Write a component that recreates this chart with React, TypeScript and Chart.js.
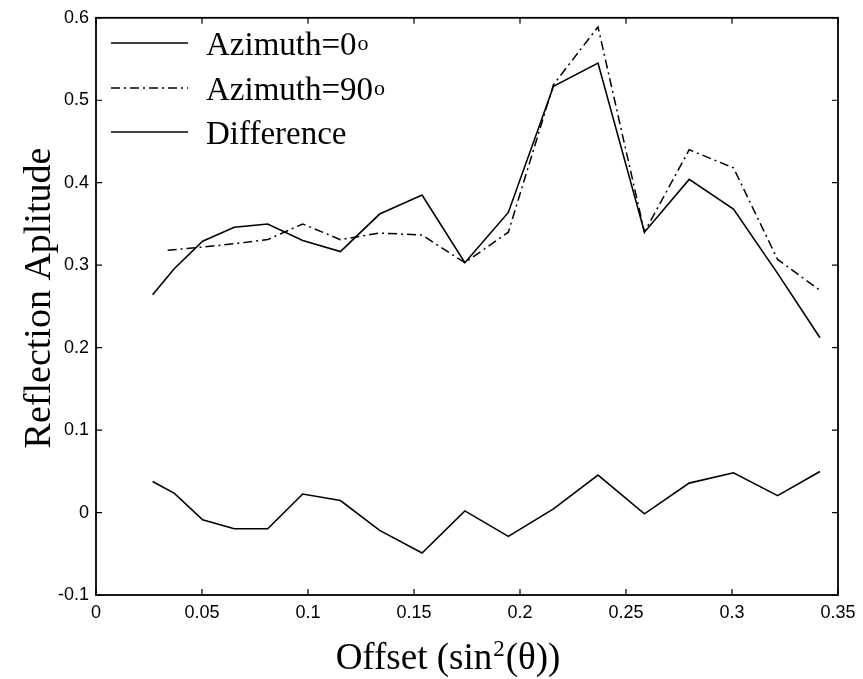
import React, { useEffect, useRef } from "react";
import { Chart, registerables } from "chart.js";

Chart.register(...registerables);

// ---- data ----
const offsets = [0.0267, 0.037, 0.0503, 0.0652, 0.081, 0.0975, 0.1153, 0.1338, 0.1538, 0.174, 0.1945, 0.2158, 0.2368, 0.2587, 0.2798, 0.3007, 0.3215, 0.3415];
const azimuth0 = [0.264, 0.296, 0.329, 0.346, 0.35, 0.33, 0.3165, 0.362, 0.385, 0.303, 0.364, 0.517, 0.545, 0.34, 0.404, 0.368, 0.29, 0.212];
const azimuth90Offsets = [0.0338, 0.0503, 0.0652, 0.081, 0.0975, 0.1153, 0.1338, 0.1538, 0.174, 0.1945, 0.2158, 0.2368, 0.2587, 0.2798, 0.3007, 0.3215, 0.3415];
const azimuth90 = [0.318, 0.322, 0.326, 0.331, 0.35, 0.331, 0.339, 0.3365, 0.303, 0.34, 0.519, 0.589, 0.34, 0.44, 0.418, 0.307, 0.2695];
const difference = [0.0377, 0.0233, -0.0088, -0.0197, -0.0197, 0.0225, 0.0145, -0.0217, -0.049, 0.002, -0.0289, 0.0044, 0.0454, -0.0016, 0.0357, 0.0482, 0.0205, 0.0498];

const xTickValues = [0, 0.05, 0.1, 0.15, 0.2, 0.25, 0.3, 0.35];
const xTickLabels = ["0", "0.05", "0.1", "0.15", "0.2", "0.25", "0.3", "0.35"];
const yTickValues = [-0.1, 0, 0.1, 0.2, 0.3, 0.4, 0.5, 0.6];
const yTickLabels = ["-0.1", "0", "0.1", "0.2", "0.3", "0.4", "0.5", "0.6"];

const legendLabels = ["Azimuth=0", "Azimuth=90", "Difference"];
const legendSups = ["o", "o", ""];
const xTitleParts = ["Offset (sin", "2", "(θ))"];
const yTitle = "Reflection Aplitude";

const SERIF = '"Liberation Serif", "Times New Roman", serif';
const SANS = '"Liberation Sans", Arial, sans-serif';
const DASH_B = [9, 4, 2, 4];

const decorPlugin = {
  id: "decor",
  afterDraw(chart: any) {
    const { ctx, chartArea: a, scales } = chart;
    ctx.save();
    ctx.strokeStyle = "#000";
    ctx.fillStyle = "#000";
    // frame
    ctx.lineWidth = 1.8;
    ctx.setLineDash([]);
    ctx.strokeRect(a.left, a.top, a.right - a.left, a.bottom - a.top);
    // inward ticks on all four sides
    ctx.lineWidth = 1.2;
    const tl = 6;
    ctx.beginPath();
    xTickValues.forEach((v) => {
      const px = scales.x.getPixelForValue(v);
      ctx.moveTo(px, a.bottom);
      ctx.lineTo(px, a.bottom - tl);
      ctx.moveTo(px, a.top);
      ctx.lineTo(px, a.top + tl);
    });
    yTickValues.forEach((v) => {
      const py = scales.y.getPixelForValue(v);
      ctx.moveTo(a.left, py);
      ctx.lineTo(a.left + tl, py);
      ctx.moveTo(a.right, py);
      ctx.lineTo(a.right - tl, py);
    });
    ctx.stroke();

    // x title with superscript
    const big = `37px ${SERIF}`;
    const small = `23px ${SERIF}`;
    ctx.textBaseline = "alphabetic";
    ctx.textAlign = "left";
    ctx.font = big;
    const w1 = ctx.measureText(xTitleParts[0]).width;
    const w3 = ctx.measureText(xTitleParts[2]).width;
    ctx.font = small;
    const w2 = ctx.measureText(xTitleParts[1]).width;
    const total = w1 + w2 + w3;
    const x0 = 447 - total / 2;
    const base = 669;
    ctx.font = big;
    ctx.fillText(xTitleParts[0], x0, base);
    ctx.font = small;
    ctx.fillText(xTitleParts[1], x0 + w1 + 1, base - 13);
    ctx.font = big;
    ctx.fillText(xTitleParts[2], x0 + w1 + w2 + 2, base);

    // y title
    ctx.save();
    ctx.translate(40, 298);
    ctx.rotate(-Math.PI / 2);
    ctx.textAlign = "center";
    ctx.textBaseline = "middle";
    ctx.font = `38px ${SERIF}`;
    ctx.fillText(yTitle, 0, 0);
    ctx.restore();

    // legend
    const lineYs = [43, 88, 132];
    legendLabels.forEach((label, i) => {
      const y = lineYs[i];
      ctx.lineWidth = 1.6;
      ctx.setLineDash(i === 1 ? DASH_B : []);
      ctx.beginPath();
      ctx.moveTo(111, y);
      ctx.lineTo(188, y);
      ctx.stroke();
      ctx.setLineDash([]);
      ctx.textAlign = "left";
      ctx.textBaseline = "alphabetic";
      ctx.font = `33px ${SERIF}`;
      ctx.fillText(label, 206, y + 12);
      const w = ctx.measureText(label).width;
      if (legendSups[i]) {
        ctx.font = `22px ${SERIF}`;
        ctx.fillText(legendSups[i], 206 + w + 1, y + 7);
      }
    });
    ctx.restore();
  },
};

export default function App() {
  const canvasRef = useRef<HTMLCanvasElement | null>(null);

  useEffect(() => {
    const canvas = canvasRef.current;
    if (!canvas) return;
    const chart = new Chart(canvas, {
      type: "scatter",
      data: {
        datasets: [
          {
            label: legendLabels[0],
            data: offsets.map((x, i) => ({ x, y: azimuth0[i] })),
            showLine: true,
            borderColor: "#000",
            borderWidth: 1.6,
            pointRadius: 0,
            tension: 0,
          },
          {
            label: legendLabels[1],
            data: azimuth90Offsets.map((x, i) => ({ x, y: azimuth90[i] })),
            showLine: true,
            borderColor: "#000",
            borderWidth: 1.5,
            borderDash: DASH_B,
            pointRadius: 0,
            tension: 0,
          },
          {
            label: legendLabels[2],
            data: offsets.map((x, i) => ({ x, y: difference[i] })),
            showLine: true,
            borderColor: "#000",
            borderWidth: 1.6,
            pointRadius: 0,
            tension: 0,
          },
        ],
      },
      options: {
        animation: false,
        responsive: false,
        layout: { padding: { top: 14, right: 25, left: 0, bottom: 0 } },
        plugins: { legend: { display: false }, tooltip: { enabled: false } },
        scales: {
          x: {
            type: "linear",
            min: 0,
            max: 0.35,
            grid: { display: false, drawTicks: false },
            border: { display: false },
            afterBuildTicks: (s: any) => {
              s.ticks = xTickValues.map((v) => ({ value: v }));
            },
            afterFit: (s: any) => {
              s.height = 84;
            },
            ticks: {
              color: "#000",
              font: { family: SANS, size: 18 },
              padding: 7,
              maxRotation: 0,
              autoSkip: false,
              callback: (_v: any, i: number) => xTickLabels[i],
            },
          },
          y: {
            type: "linear",
            min: -0.1,
            max: 0.6,
            grid: { display: false, drawTicks: false },
            border: { display: false },
            afterBuildTicks: (s: any) => {
              s.ticks = yTickValues.map((v) => ({ value: v }));
            },
            afterFit: (s: any) => {
              s.width = 96;
            },
            ticks: {
              color: "#000",
              font: { family: SANS, size: 18 },
              padding: 7,
              autoSkip: false,
              callback: (_v: any, i: number) => yTickLabels[i],
            },
          },
        },
      },
      plugins: [decorPlugin],
    });
    return () => chart.destroy();
  }, []);

  return (
    <div style={{ position: "absolute", left: 0, top: 0, width: 863, height: 679, background: "#fff" }}>
      <canvas ref={canvasRef} width={863} height={679} style={{ display: "block" }} />
    </div>
  );
}
